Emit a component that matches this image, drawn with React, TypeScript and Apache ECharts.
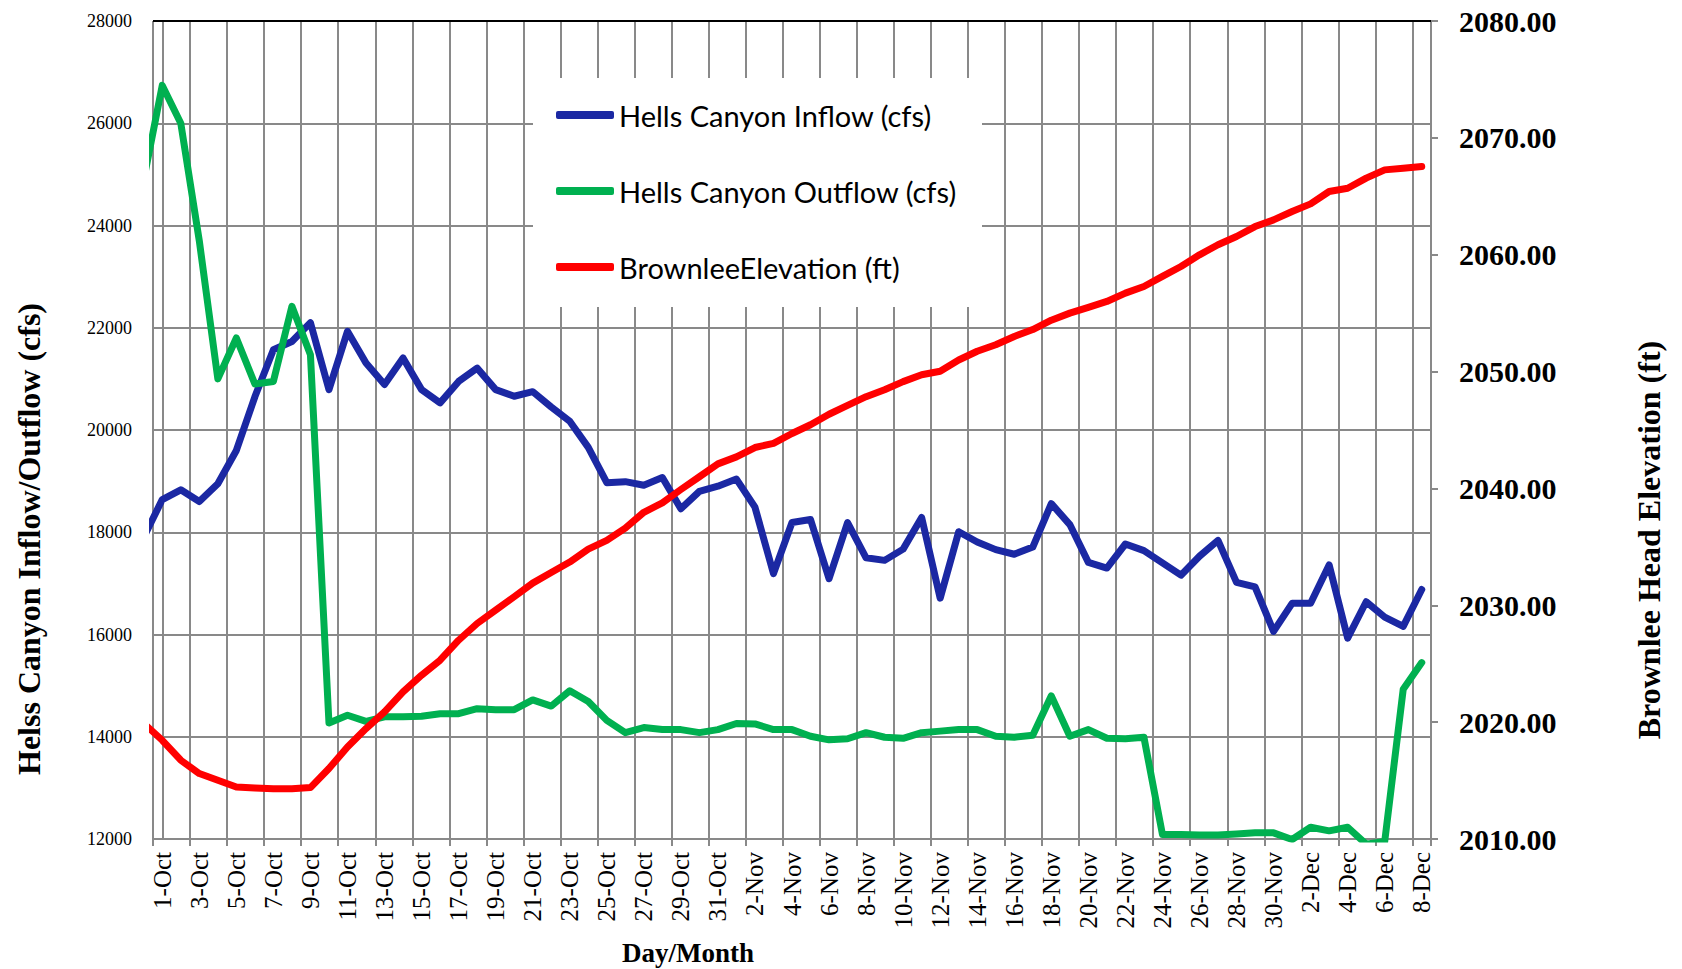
import React, { useEffect, useRef } from "react";
import * as echarts from "echarts";

const categories = [
  "1-Oct", "2-Oct", "3-Oct", "4-Oct", "5-Oct", "6-Oct", "7-Oct", "8-Oct", "9-Oct", "10-Oct",
  "11-Oct", "12-Oct", "13-Oct", "14-Oct", "15-Oct", "16-Oct", "17-Oct", "18-Oct", "19-Oct", "20-Oct",
  "21-Oct", "22-Oct", "23-Oct", "24-Oct", "25-Oct", "26-Oct", "27-Oct", "28-Oct", "29-Oct", "30-Oct",
  "31-Oct", "1-Nov", "2-Nov", "3-Nov", "4-Nov", "5-Nov", "6-Nov", "7-Nov", "8-Nov", "9-Nov",
  "10-Nov", "11-Nov", "12-Nov", "13-Nov", "14-Nov", "15-Nov", "16-Nov", "17-Nov", "18-Nov", "19-Nov",
  "20-Nov", "21-Nov", "22-Nov", "23-Nov", "24-Nov", "25-Nov", "26-Nov", "27-Nov", "28-Nov", "29-Nov",
  "30-Nov", "1-Dec", "2-Dec", "3-Dec", "4-Dec", "5-Dec", "6-Dec", "7-Dec", "8-Dec",
];

// Hells Canyon Inflow (cfs), 1-Oct .. 8-Dec
const inflow = [
  18640, 18830, 18600, 18950, 19600, 20650, 21570, 21730, 22100, 20790,
  21930, 21310, 20890, 21410, 20790, 20530, 20950, 21210, 20790, 20660,
  20750, 20450, 20170, 19660, 18970, 18990, 18920, 19070, 18460, 18800,
  18900, 19040, 18490, 17190, 18190, 18250, 17090, 18190, 17500, 17450,
  17670, 18290, 16710, 18010, 17810, 17660, 17570, 17710, 18560, 18150,
  17410, 17300, 17770, 17640, 17400, 17160, 17530, 17840, 17020, 16930,
  16060, 16610, 16610, 17360, 15930, 16640, 16340, 16160, 16880,
];

// Hells Canyon Outflow (cfs), 1-Oct .. 8-Dec
const outflow = [
  26740, 26000, 23700, 21000, 21800, 20900, 20950, 22420, 21470, 14270,
  14420, 14300, 14390, 14390, 14400, 14450, 14450, 14550, 14530, 14530,
  14720, 14600, 14900, 14690, 14320, 14080, 14180, 14140, 14140, 14080,
  14140, 14260, 14250, 14140, 14140, 14010, 13940, 13960, 14080, 13990,
  13970, 14080, 14110, 14140, 14140, 14010, 13990, 14030, 14800, 14010,
  14140, 13970, 13960, 13990, 12090, 12090, 12080, 12080, 12100, 12120,
  12120, 11990, 12230, 12160, 12230, 11900, 11950, 14930, 15450,
];

// Brownlee Elevation (ft), 1-Oct .. 8-Dec
const elevation = [
  2018.45, 2016.74, 2015.6, 2015.03, 2014.45, 2014.37, 2014.31, 2014.31, 2014.4, 2016.03,
  2017.88, 2019.45, 2020.88, 2022.59, 2024.02, 2025.3, 2027.01, 2028.44, 2029.59, 2030.73,
  2031.9, 2032.8, 2033.7, 2034.81, 2035.56, 2036.61, 2037.96, 2038.77, 2039.91, 2041.0,
  2042.1, 2042.7, 2043.5, 2043.86, 2044.7, 2045.45, 2046.35, 2047.1, 2047.85, 2048.45,
  2049.14, 2049.73, 2050.03, 2050.99, 2051.74, 2052.3, 2053.0, 2053.6, 2054.4, 2055.0,
  2055.5, 2056.0, 2056.71, 2057.28, 2058.14, 2058.99, 2059.99, 2060.85, 2061.56, 2062.41,
  2062.98, 2063.7, 2064.35, 2065.41, 2065.69, 2066.55, 2067.26, 2067.4, 2067.55,
];

// values of the preceding day (30-Sep); their segment is cut at the plot's left edge
const priorInflow = 17900;
const priorOutflow = 24900;
const priorElevation = 2019.9;

const seriesNames = [
  "Hells Canyon Inflow (cfs)",
  "Hells Canyon Outflow (cfs)",
  "BrownleeElevation (ft)",
];
const seriesColors = ["#1B28A3", "#00B050", "#FF0000"];

const flowAxis = { min: 12000, max: 28000, step: 2000 };
const elevAxis = { min: 2010, max: 2080, step: 10 };

const leftTitle = "Helss Canyon Inflow/Outflow (cfs)";
const rightTitle = "Brownlee Head Elevation (ft)";
const xTitle = "Day/Month";

const GRID = "#898989";
const SERIF = "'Liberation Serif', 'Times New Roman', serif";

function pairs(prior: number, values: number[]) {
  return [[-1, prior], ...values.map((v, i) => [i, v])];
}

export default function App() {
  const ref = useRef<HTMLDivElement>(null);

  useEffect(() => {
    const chart = echarts.init(ref.current!, null, { renderer: "svg" });
    const left = 153;
    const top = 21;
    const right = 251;
    const bottom = 130;
    const W = 1682;

    const mkLine = (idx: number, yAxisIndex: number, data: number[][]) => ({
      name: seriesNames[idx],
      type: "line",
      xAxisIndex: 1,
      yAxisIndex,
      data,
      symbol: "none",
      showSymbol: false,
      clip: true,
      color: seriesColors[idx],
      lineStyle: { color: seriesColors[idx], width: 7, join: "round", cap: "round" },
      z: 3,
    });

    chart.setOption({
      animation: false,
      backgroundColor: "#ffffff",
      grid: { left, top, right, bottom, containLabel: false, outerBoundsMode: "none" },
      xAxis: [
        {
          type: "category",
          data: categories,
          boundaryGap: true,
          axisLine: { show: true, lineStyle: { color: GRID, width: 2 } },
          axisTick: { show: true, interval: 1, length: 7, lineStyle: { color: GRID, width: 2 } },
          axisLabel: {
            interval: 1,
            rotate: 90,
            margin: 13,
            fontFamily: SERIF,
            fontSize: 25,
            color: "#000",
          },
          splitLine: { show: true, interval: 1, lineStyle: { color: GRID, width: 2 } },
        },
        { type: "value", min: -0.5, max: categories.length - 0.5, show: false },
      ],
      yAxis: [
        {
          type: "value",
          position: "left",
          min: flowAxis.min,
          max: flowAxis.max,
          interval: flowAxis.step,
          axisLine: { show: true, lineStyle: { color: GRID, width: 2 } },
          axisTick: { show: true, length: 7, lineStyle: { color: GRID, width: 2 } },
          axisLabel: {
            margin: 21,
            fontFamily: SERIF,
            fontSize: 18,
            color: "#000",
            formatter: (v: number) => String(v),
          },
          splitLine: { show: true, lineStyle: { color: GRID, width: 2 } },
        },
        {
          type: "value",
          position: "right",
          min: elevAxis.min,
          max: elevAxis.max,
          interval: elevAxis.step,
          axisLine: { show: true, lineStyle: { color: GRID, width: 2 } },
          axisTick: { show: true, length: 7, lineStyle: { color: GRID, width: 2 } },
          axisLabel: {
            margin: 28,
            fontFamily: SERIF,
            fontWeight: "bold",
            fontSize: 30,
            color: "#000",
            formatter: (v: number) => v.toFixed(2),
          },
          splitLine: { show: false },
        },
      ],
      legend: {
        orient: "vertical",
        left: 551,
        top: 95,
        itemWidth: 58,
        itemHeight: 8,
        itemGap: 46,
        icon: "roundRect",
        data: seriesNames,
        textStyle: {
          fontFamily: "Lato, 'Open Sans', sans-serif",
          fontSize: 29,
          color: "#000",
          lineHeight: 30,
        },
        z: 6,
      },
      graphic: [
        {
          type: "rect",
          z: 1,
          silent: true,
          shape: { x: 533, y: 78, width: 449, height: 229 },
          style: { fill: "#ffffff" },
        },
        {
          type: "line",
          z: 5,
          silent: true,
          shape: { x1: left, y1: top, x2: W - right, y2: top },
          style: { stroke: "#000", lineWidth: 2 },
        },
        {
          type: "text",
          z: 5,
          x: 29,
          y: 539,
          rotation: Math.PI / 2,
          style: {
            text: leftTitle,
            fontFamily: SERIF,
            fontWeight: "bold",
            fontSize: 32,
            fill: "#000",
            align: "center",
            verticalAlign: "middle",
          },
        },
        {
          type: "text",
          z: 5,
          x: 1649,
          y: 540,
          rotation: Math.PI / 2,
          style: {
            text: rightTitle,
            fontFamily: SERIF,
            fontWeight: "bold",
            fontSize: 32,
            fill: "#000",
            align: "center",
            verticalAlign: "middle",
          },
        },
        {
          type: "text",
          z: 5,
          x: 688,
          y: 953,
          style: {
            text: xTitle,
            fontFamily: SERIF,
            fontWeight: "bold",
            fontSize: 27,
            fill: "#000",
            align: "center",
            verticalAlign: "middle",
          },
        },
      ],
      series: [
        mkLine(0, 0, pairs(priorInflow, inflow)),
        mkLine(1, 0, pairs(priorOutflow, outflow)),
        mkLine(2, 1, pairs(priorElevation, elevation)),
      ],
    });

    return () => chart.dispose();
  }, []);

  return (
    <div
      ref={ref}
      style={{ position: "fixed", left: 0, top: 0, width: 1682, height: 969, background: "#fff" }}
    />
  );
}
